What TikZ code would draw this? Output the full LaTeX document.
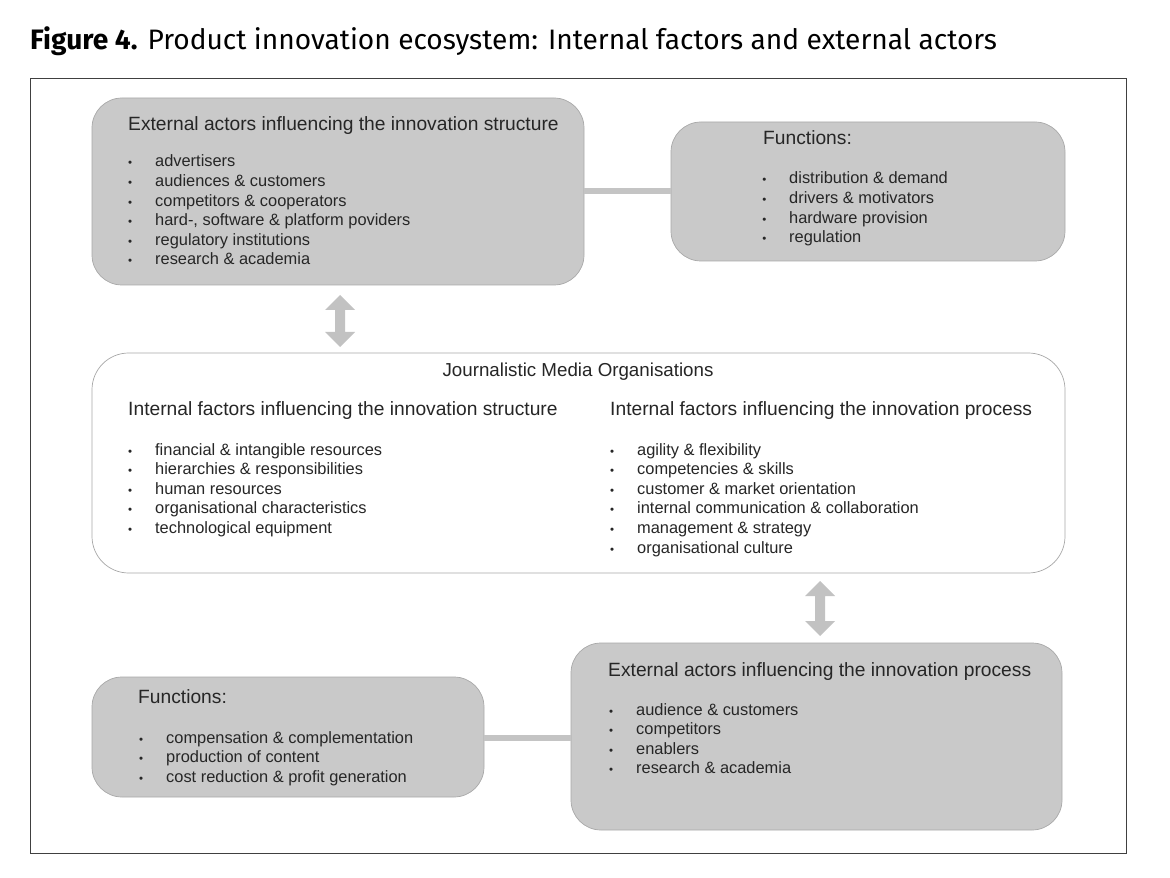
\documentclass[tikz,border=0pt]{standalone}
\usepackage{fontspec}
\setmainfont{Liberation Sans}
\newfontfamily\titlefont{Fira Sans}
\begin{document}
\begin{tikzpicture}[x=0.03cm,y=-0.03cm,
  gbox/.style={fill=boxgray,draw=boxedge,line width=0.6pt,rounded corners=0.9cm},
  wbox/.style={fill=white,draw=boxedge,line width=0.6pt,rounded corners=1.1cm},
  head/.style={anchor=base west,inner sep=0,font=\fontsize{16.4}{19}\selectfont,text=txt},
  item/.style={anchor=base west,inner sep=0,font=\fontsize{14}{16}\selectfont,text=txt},
  link/.style={draw=linkgray,line width=5pt},
  dbl/.style={fill=arrgray,draw=none}]
\definecolor{boxgray}{HTML}{C9C9C9}
\definecolor{boxedge}{HTML}{A8A8A8}
\definecolor{linkgray}{HTML}{C4C4C4}
\definecolor{arrgray}{HTML}{C2C2C2}
\definecolor{txt}{HTML}{262626}
\newcommand{\bul}{\makebox[23pt][l]{\scalebox{0.7}{\textbullet}}}
\useasboundingbox (0,0) rectangle (1170,878);
\node[anchor=base west,inner sep=0,font=\titlefont\fontsize{24}{28}\selectfont] (title) at (30,50) {\textbf{Figure 4.} Product innovation ecosystem: Internal factors and external actors};
\draw[line width=0.8pt,draw=black!75] (30,78) rectangle (1126,853);
% boxes
\path[gbox] (92,98) rectangle (584,285);
\path[gbox] (671,122) rectangle (1065,261);
\path[wbox] (92,353) rectangle (1065,573);
\path[gbox] (571,643) rectangle (1062,830);
\path[gbox] (92,677) rectangle (484,797);
\coordinate (a) at (584,191); \coordinate (b) at (671,191);
\coordinate (c) at (484,738); \coordinate (d) at (571,738);
\draw[link] (a) -- (b);
\draw[link] (c) -- (d);
% double arrows
\foreach \x/\t/\bb in {340/295/347, 820/581/636}{
  \path[dbl] (\x,\t) -- (\x+15,\t+15) -- (\x+5,\t+15) -- (\x+5,\bb-15) -- (\x+15,\bb-15) -- (\x,\bb) -- (\x-15,\bb-15) -- (\x-5,\bb-15) -- (\x-5,\t+15) -- (\x-15,\t+15) -- cycle;
}
% box A
\node[head] (ha) at (128,131) {External actors influencing the innovation structure};
\foreach \t [count=\i from 0] in {advertisers,audiences \& customers,competitors \& cooperators,{hard-, software \& platform poviders},regulatory institutions,research \& academia}{
  \node[item] (a\i) at (128,167+19.6*\i) {\bul\t};
}
% box B
\node[head] (hb) at (763,145) {Functions:};
\foreach \t [count=\i from 0] in {distribution \& demand,drivers \& motivators,hardware provision,regulation}{
  \node[item] (b\i) at (789,184+19.6*\i) {\llap{\bul}\t};
}
% middle
\node[anchor=base,inner sep=0,font=\fontsize{16}{19}\selectfont,text=txt] (hm) at (578,377) {Journalistic Media Organisations};
\node[head] (hm1) at (128,416) {Internal factors influencing the innovation structure};
\node[head] (hm2) at (610,416) {Internal factors influencing the innovation process};
\foreach \t [count=\i from 0] in {financial \& intangible resources,hierarchies \& responsibilities,human resources,organisational characteristics,technological equipment}{
  \node[item] (m\i) at (128,455+19.6*\i) {\bul\t};
}
\foreach \t [count=\i from 0] in {agility \& flexibility,competencies \& skills,customer \& market orientation,internal communication \& collaboration,management \& strategy,organisational culture}{
  \node[item] (n\i) at (610,455+19.6*\i) {\bul\t};
}
% box C
\node[head] (hc) at (608,676) {External actors influencing the innovation process};
\foreach \t [count=\i from 0] in {audience \& customers,competitors,enablers,research \& academia}{
  \node[item] (c\i) at (609,715+19.6*\i) {\bul\t};
}
% box D
\node[head] (hd) at (138,703) {Functions:};
\foreach \t [count=\i from 0] in {compensation \& complementation,production of content,cost reduction \& profit generation}{
  \node[item] (d\i) at (139,743+19.6*\i) {\bul\t};
}
\end{tikzpicture}
\end{document}
